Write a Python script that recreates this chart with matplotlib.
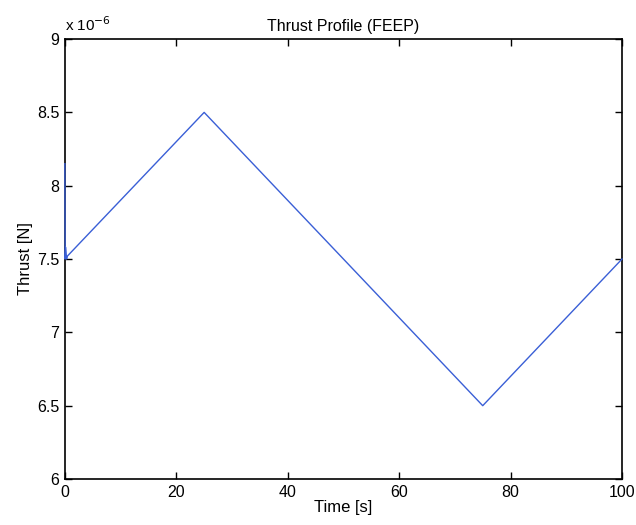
import matplotlib
matplotlib.use("Agg")
import matplotlib.pyplot as plt

# Data (thrust in units of 1e-6 N)
time_s = [0.0, 0.05, 0.15, 0.3, 0.45, 25.0, 75.0, 100.0]
thrust_e6 = [8.15, 7.5, 7.58, 7.5, 7.52, 8.5, 6.5, 7.5]

x_ticks = [0, 20, 40, 60, 80, 100]
y_ticks = [6, 6.5, 7, 7.5, 8, 8.5, 9]
y_tick_labels = ["6", "6.5", "7", "7.5", "8", "8.5", "9"]

plt.rcParams['font.family'] = ['Liberation Sans', 'DejaVu Sans']

fig = plt.figure(figsize=(6.36, 5.25), dpi=100)
ax = fig.add_axes([0.102, 0.0876, 0.876, 0.838])
ax.plot(time_s, thrust_e6, color='#3a5fd6', linewidth=1.0, clip_on=False, zorder=3)
ax.set_xlim(0, 100)
ax.set_ylim(6, 9)
ax.set_xticks(x_ticks)
ax.set_yticks(y_ticks)
ax.set_yticklabels(y_tick_labels)
ax.tick_params(direction='in', top=True, right=True, labelsize=11.5, length=5, width=1, pad=4)
for s in ax.spines.values():
    s.set_linewidth(1.2)
    s.set_zorder(2)
ax.set_title('Thrust Profile (FEEP)', fontsize=11.5, pad=6)
ax.set_xlabel('Time [s]', fontsize=12, labelpad=0)
ax.set_ylabel('Thrust [N]', fontsize=12, labelpad=3)
ax.text(0.0, 1.012, r'x 10$^{-6}$', transform=ax.transAxes, fontsize=11, ha='left', va='bottom')

fig.savefig('out.png', dpi=100)
